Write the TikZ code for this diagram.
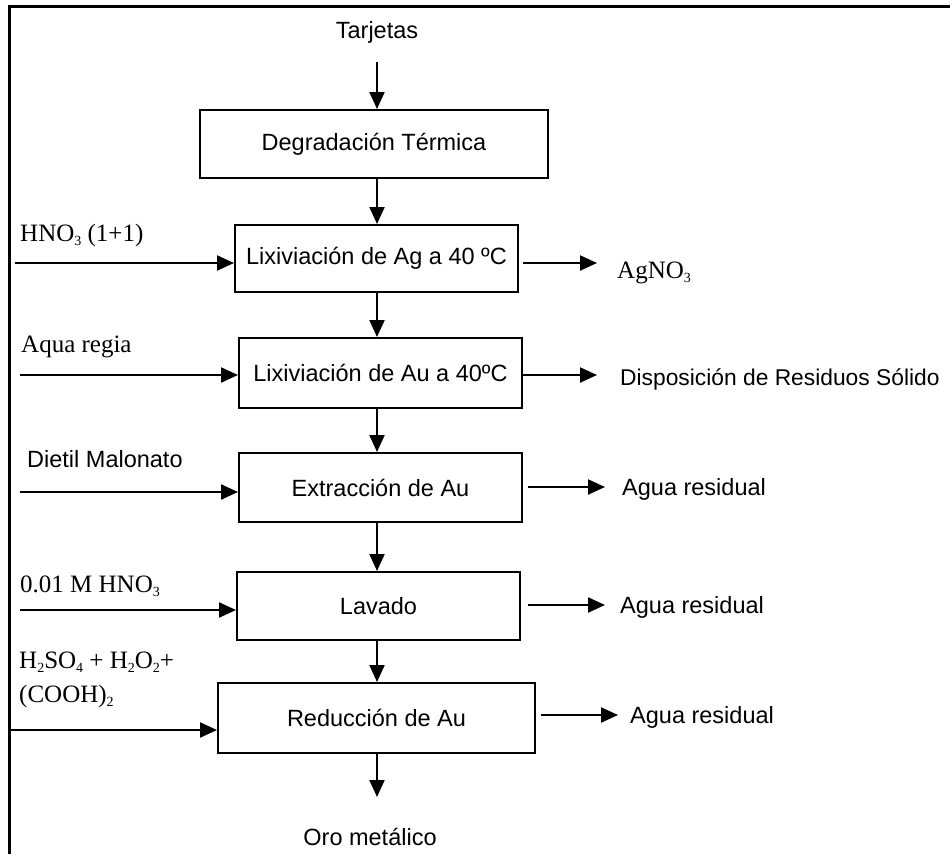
\documentclass[tikz,border=0pt]{standalone}
\usepackage{fontspec}
\setmainfont{Liberation Serif}
\setsansfont{Liberation Sans}
\usetikzlibrary{arrows.meta}
% chemical subscript at reduced size
\newcommand\chsub[1]{\raisebox{-0.18em}{\fontsize{14}{14}\selectfont #1}}

\begin{document}
\begin{tikzpicture}[x=1pt,y=-1pt,
  stepbox/.style={draw, line width=2pt, inner sep=0pt,
    font=\fontsize{23.5}{27}\selectfont\sffamily},
  flow/.style={-{Triangle[length=17pt,width=15pt]}, line width=2.2pt},
  sanslbl/.style={font=\fontsize{23.5}{27}\selectfont\sffamily, inner sep=0pt},
  seriflbl/.style={font=\fontsize{25}{29}\selectfont\rmfamily, inner sep=0pt}]

\useasboundingbox (0,0) rectangle (950,854);

% outer frame: top and left edges only
\draw[line width=3pt] (9.5,854) -- (9.5,6) -- (950,6);

% main process column
\coordinate (v) at (377,0);
\node[sanslbl, anchor=base] (tar) at (377,38) {Tarjetas};
\node[stepbox, minimum width=348pt, minimum height=68pt] (b1) at (374,144) {Degradación Térmica};
\node[stepbox, minimum width=283pt, minimum height=67pt] (b2) at (376.5,258.5) {Lixiviación de Ag a 40 ºC};
\node[stepbox, minimum width=283pt, minimum height=70pt] (b3) at (380.5,373) {Lixiviación de Au a 40ºC};
\node[stepbox, minimum width=283pt, minimum height=69pt] (b4) at (380.5,487.5) {Extracción de Au};
\node[stepbox, minimum width=283pt, minimum height=68pt] (b5) at (378.5,606) {Lavado};
\node[stepbox, minimum width=317pt, minimum height=70pt] (b6) at (376.5,718) {Reducción de Au};
\node[sanslbl, anchor=base] (oro) at (370,845) {Oro metálico};

\draw[flow, shorten <=24pt] (tar.base -| v) -- (b1.north -| v);
\draw[flow] (b1.south -| v) -- (b2.north -| v);
\draw[flow] (b2.south -| v) -- (b3.north -| v);
\draw[flow] (b3.south -| v) -- (b4.north -| v);
\draw[flow] (b4.south -| v) -- (b5.north -| v);
\draw[flow] (b5.south -| v) -- (b6.north -| v);
\draw[flow, shorten >=48pt] (b6.south -| v) -- (oro.base -| v);

% reagents fed from the left
\node[seriflbl, anchor=base west] (r2) at (20,241) {HNO\chsub{3} (1+1)};
\node[seriflbl, anchor=base west] (r3) at (21,352) {Aqua regia};
\node[sanslbl, anchor=base west] (r4) at (27,467) {Dietil Malonato};
\node[seriflbl, anchor=base west] (r5) at (20,592) {0.01 M HNO\chsub{3}};
\node[seriflbl, anchor=base west] (r6a) at (19,668) {H\chsub{2}SO\chsub{4} + H\chsub{2}O\chsub{2}+};
\node[seriflbl, anchor=base west] (r6b) at (19,702) {(COOH)\chsub{2}};

\coordinate (i2) at (15,263);
\coordinate (i3) at (20,375);
\coordinate (i4) at (20,492);
\coordinate (i5) at (20,610);
\coordinate (i6) at (10,730);
\draw[flow] (i2) -- (i2 -| b2.west);
\draw[flow] (i3) -- (i3 -| b3.west);
\draw[flow] (i4) -- (i4 -| b4.west);
\draw[flow] (i5) -- (i5 -| b5.west);
\draw[flow] (i6) -- (i6 -| b6.west);

% products leaving to the right
\node[seriflbl, anchor=base west] (p2) at (617,278) {AgNO\chsub{3}};
\node[sanslbl, anchor=base west, font=\fontsize{22.8}{27}\selectfont\sffamily] (p3) at (620,385) {Disposición de Residuos Sólido};
\node[sanslbl, anchor=base west] (p4) at (622,495) {Agua residual};
\node[sanslbl, anchor=base west] (p5) at (620,613) {Agua residual};
\node[sanslbl, anchor=base west] (p6) at (630,723) {Agua residual};

\coordinate (o2) at (597,263);
\coordinate (o3) at (597,375);
\coordinate (o4) at (605,487);
\coordinate (o5) at (605,605);
\coordinate (o6) at (618,715);
\draw[flow, shorten <=4pt] (o2 -| b2.east) -- (o2);
\draw[flow] (o3 -| b3.east) -- (o3);
\draw[flow, shorten <=5pt] (o4 -| b4.east) -- (o4);
\draw[flow, shorten <=7pt] (o5 -| b5.east) -- (o5);
\draw[flow, shorten <=5pt] (o6 -| b6.east) -- (o6);
\end{tikzpicture}
\end{document}
